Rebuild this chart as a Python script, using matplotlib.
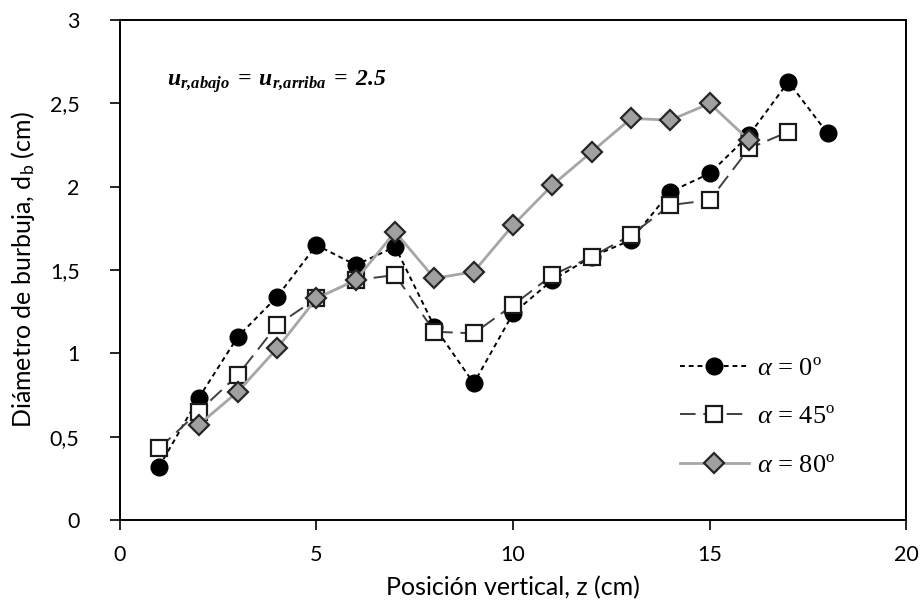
import numpy as np
import matplotlib
matplotlib.use("Agg")
import matplotlib.pyplot as plt
from matplotlib.ticker import FuncFormatter

plt.rcParams['font.family'] = ['Lato', 'DejaVu Sans']
plt.rcParams['mathtext.fontset'] = 'custom'
plt.rcParams['mathtext.rm'] = 'Liberation Serif'
plt.rcParams['mathtext.it'] = 'Liberation Serif:italic'
plt.rcParams['mathtext.bf'] = 'Liberation Serif:bold'
plt.rcParams['mathtext.bfit'] = 'Liberation Serif:italic:bold'

# datos
z_0 = [1, 2, 3, 4, 5, 6, 7, 8, 9, 10, 11, 12, 13, 14, 15, 16, 17, 18]
db_0 = [0.32, 0.73, 1.10, 1.34, 1.65, 1.53, 1.64, 1.16, 0.82, 1.24,
        1.44, 1.58, 1.68, 1.97, 2.08, 2.31, 2.63, 2.32]

z_45 = [1, 2, 3, 4, 5, 6, 7, 8, 9, 10, 11, 12, 13, 14, 15, 16, 17]
db_45 = [0.43, 0.65, 0.87, 1.17, 1.33, 1.44, 1.47, 1.13, 1.12, 1.29,
         1.47, 1.58, 1.71, 1.89, 1.92, 2.23, 2.33]

z_80 = [2, 3, 4, 5, 6, 7, 8, 9, 10, 11, 12, 13, 14, 15, 16]
db_80 = [0.57, 0.77, 1.03, 1.33, 1.44, 1.73, 1.45, 1.49, 1.77, 2.01,
         2.21, 2.41, 2.40, 2.50, 2.28]

labels = [r'$\alpha$ = 0º', r'$\alpha$ = 45º', r'$\alpha$ = 80º']

fig = plt.figure(figsize=(9.22, 6.11), dpi=100)
ax = fig.add_axes([0.130, 0.149, 0.853, 0.818])

ax.plot(z_0, db_0, linestyle=(0, (2.5, 2)), color='black', lw=1.4,
        marker='o', ms=12, mfc='black', mec='black', label=labels[0])
ax.plot(z_45, db_45, linestyle=(0, (8, 4)), color='#404040', lw=1.4,
        marker='s', ms=12, mfc='white', mec='#1a1a1a', mew=1.6, label=labels[1])
ax.plot(z_80, db_80, linestyle='-', color='#a6a6a6', lw=2.0,
        marker='D', ms=10, mfc='#a0a0a0', mec='#262626', mew=1.6, label=labels[2])

ax.set_xlim(0, 20)
ax.set_ylim(0, 3)
ax.set_xticks([0, 5, 10, 15, 20])
ax.set_yticks([0, 0.5, 1, 1.5, 2, 2.5, 3])
ax.yaxis.set_major_formatter(FuncFormatter(lambda v, p: ('%g' % v).replace('.', ',')))

for s in ax.spines.values():
    s.set_linewidth(1.4)
ax.tick_params(direction='out', length=7, width=1.2, labelsize=15.5)
ax.tick_params(axis='y', pad=22)
ax.tick_params(axis='x', pad=11)

ax.set_xlabel('Posición vertical, z (cm)', fontsize=18, labelpad=8)
ax.set_ylabel('Diámetro de burbuja, d$_\\mathregular{b}$ (cm)', fontsize=18, labelpad=9)

ax.text(1.2, 2.63, r'$\mathbfit{u_{r{,}abajo}\;=\;u_{r{,}arriba}\;=\;2.5}$',
        fontsize=17, va='center', ha='left')

leg = ax.legend(loc='upper left', bbox_to_anchor=(0.682, 0.375), frameon=False,
                handlelength=2.6, labelspacing=0.95, handletextpad=0.3,
                prop={'family': 'Liberation Serif', 'size': 19})

fig.savefig('out.png', dpi=100)
